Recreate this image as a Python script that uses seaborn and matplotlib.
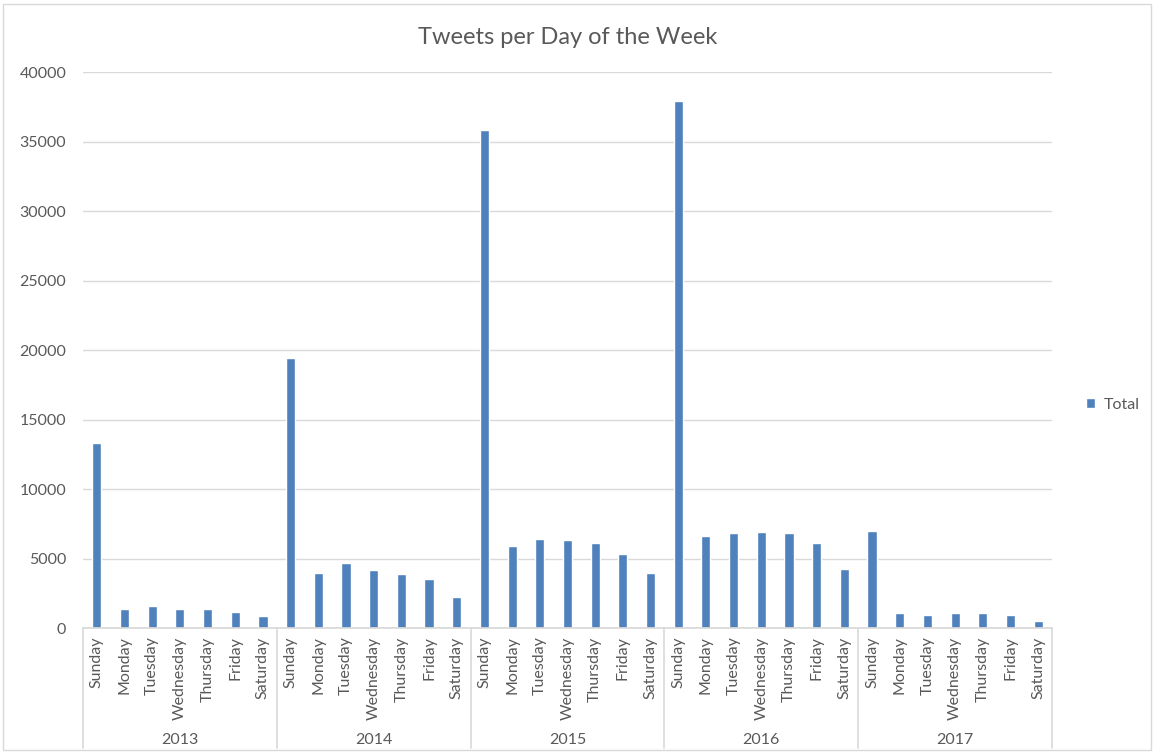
import matplotlib
matplotlib.use("Agg")
import matplotlib.pyplot as plt
import matplotlib.patches as mpatches
import matplotlib.transforms as mtransforms
import numpy as np
import pandas as pd
import seaborn as sns

# values
years = ["2013", "2014", "2015", "2016", "2017"]
days = ["Sunday", "Monday", "Tuesday", "Wednesday", "Thursday", "Friday", "Saturday"]
tweets_2013 = [13300, 1370, 1580, 1370, 1370, 1130, 840]
tweets_2014 = [19400, 3980, 4650, 4170, 3860, 3500, 2250]
tweets_2015 = [35850, 5900, 6380, 6330, 6090, 5350, 3930]
tweets_2016 = [37900, 6640, 6810, 6880, 6810, 6140, 4220]
tweets_2017 = [7000, 1100, 940, 1100, 1100, 940, 500]

rows = []
for yr, vals in zip(years, [tweets_2013, tweets_2014, tweets_2015, tweets_2016, tweets_2017]):
    for d, v in zip(days, vals):
        rows.append({"year": yr, "day": d, "key": yr + " " + d, "Total": v})
df = pd.DataFrame(rows)

sns.set_theme(style="white")
plt.rcParams["font.family"] = ["Lato", "DejaVu Sans"]
txt = "#595959"
grid = "#d9d9d9"

fig = plt.figure(figsize=(11.54, 7.54), dpi=100)
ax = fig.add_axes([0.0719, 0.1671, 0.8397, 0.7374])

sns.barplot(data=df, x="key", y="Total", order=df["key"], color="#4F81BD",
            width=0.33, saturation=1, label="Total", ax=ax)

ax.set_ylim(0, 40000)
ax.set_yticks(np.arange(0, 40001, 5000))
ax.set_xlim(-0.5, len(df) - 0.5)
ax.yaxis.grid(True, color=grid, linewidth=1)
ax.set_axisbelow(True)
for s in ["top", "right", "left"]:
    ax.spines[s].set_visible(False)
ax.spines["bottom"].set_color(grid)
ax.set_xlabel("")
ax.set_ylabel("")
ax.tick_params(axis="y", length=0, labelsize=11.5, labelcolor=txt, pad=12)
ax.set_xticks(range(len(df)))
ax.set_xticklabels(df["day"], rotation=90, fontsize=11.5, color=txt)
ax.tick_params(axis="x", length=0, pad=6)

# year groups below the day labels
trans = mtransforms.blended_transform_factory(ax.transData, ax.transAxes)
n = len(days)
for i in range(len(years) + 1):
    x = i * n - 0.5
    ax.plot([x, x], [0, -0.216], color=grid, lw=1.2, transform=trans, clip_on=False)
for i, yr in enumerate(years):
    ax.text(i * n + (n - 1) / 2, -0.201, yr, transform=trans, ha="center", va="center",
            fontsize=11.5, color=txt)

ax.set_title("Tweets per Day of the Week", fontsize=17, color=txt, pad=20)

leg = ax.legend(loc="center left", bbox_to_anchor=(1.02, 0.401), frameon=False,
                handlelength=0.6, handleheight=0.6, handletextpad=0.5, fontsize=11.5)
for t in leg.get_texts():
    t.set_color(txt)

fig.patches.append(mpatches.Rectangle((0.003, 0.005), 0.994, 0.99, transform=fig.transFigure,
                                      fill=False, edgecolor=grid, lw=1))

fig.savefig("out.png", dpi=100)
